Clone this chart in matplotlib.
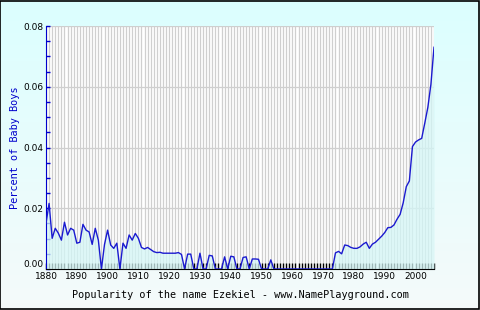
import numpy as np
import matplotlib
matplotlib.use("Agg")
import matplotlib.pyplot as plt
from matplotlib.patches import Rectangle

# popularity of "Ezekiel", share of baby boys (%), one value per year
years = list(range(1880, 2007))
percent = [
    0.0150, 0.0216, 0.0101, 0.0134, 0.0118, 0.0095, 0.0154, 0.0112, 0.0134, 0.0128,  # 1880s
    0.0085, 0.0088, 0.0147, 0.0128, 0.0122, 0.0081, 0.0134, 0.0095, 0.0000, 0.0081,  # 1890s
    0.0128, 0.0079, 0.0068, 0.0085, 0.0000, 0.0085, 0.0068, 0.0112, 0.0095, 0.0117,  # 1900s
    0.0101, 0.0071, 0.0066, 0.0071, 0.0064, 0.0057, 0.0054, 0.0055, 0.0052, 0.0052,  # 1910s
    0.0052, 0.0052, 0.0052, 0.0054, 0.0048, 0.0000, 0.0049, 0.0049, 0.0000, 0.0000,  # 1920s
    0.0052, 0.0000, 0.0000, 0.0045, 0.0043, 0.0000, 0.0000, 0.0000, 0.0040, 0.0000,  # 1930s
    0.0042, 0.0040, 0.0000, 0.0000, 0.0038, 0.0040, 0.0000, 0.0033, 0.0033, 0.0032,  # 1940s
    0.0000, 0.0000, 0.0000, 0.0030, 0.0000, 0.0000, 0.0000, 0.0000, 0.0000, 0.0000,  # 1950s
    0.0000, 0.0000, 0.0000, 0.0000, 0.0000, 0.0000, 0.0000, 0.0000, 0.0000, 0.0000,  # 1960s
    0.0000, 0.0000, 0.0000, 0.0000, 0.0053, 0.0058, 0.0050, 0.0079, 0.0077, 0.0071,  # 1970s
    0.0068, 0.0068, 0.0073, 0.0082, 0.0088, 0.0068, 0.0082, 0.0088, 0.0098, 0.0108,  # 1980s
    0.0120, 0.0136, 0.0137, 0.0145, 0.0164, 0.0180, 0.0218, 0.0271, 0.0290, 0.0403,  # 1990s
    0.0418, 0.0425, 0.0430, 0.0480, 0.0532, 0.0608, 0.0730,                          # 2000s
]
xticks = list(range(1880, 2001, 10))
yticks = [0.00, 0.02, 0.04, 0.06, 0.08]

fig = plt.figure(figsize=(4.8, 3.1), dpi=100)

# light cyan gradient behind everything
bg = fig.add_axes([0, 0, 1, 1], zorder=-1)
grad = np.linspace(0, 1, 256).reshape(-1, 1)
top = np.array([0.86, 1.0, 1.0])
bottom = np.array([0.96, 0.98, 0.98])
img = top + (bottom - top) * grad[:, :, None]
bg.imshow(img, aspect="auto", extent=[0, 1, 0, 1])
bg.set_axis_off()
fig.patches.append(Rectangle((0.001, 0.002), 0.997, 0.995, transform=fig.transFigure,
                             fill=False, edgecolor="black", linewidth=1.2))

ax = fig.add_axes([46 / 480, 41 / 310, 388 / 480, 243 / 310])
ax.set_facecolor("white")
ax.set_axisbelow(True)

# one vertical grid line per year, horizontal every 0.02
ax.set_xticks(years, minor=True)
ax.grid(True, which="minor", axis="x", color="#cfcfcf", linewidth=0.9)
ax.grid(True, which="major", axis="both", color="#cfcfcf", linewidth=0.9)

ax.fill_between(years, percent, 0, color="#d4f6f6", alpha=0.75, linewidth=0, zorder=2)
ax.plot(years, percent, color="#1a1ad0", linewidth=1.0, zorder=3)

ax.set_xlim(1880, 2006)
ax.set_ylim(0, 0.08)
ax.set_xticks(xticks)
ax.set_xticklabels([str(y) for y in xticks])
ax.set_yticks(yticks)
ax.set_yticklabels([f"{v:.2f}" for v in yticks])
ax.set_yticks(np.arange(0, 0.0801, 0.005), minor=True)
ax.get_yticklabels()[0].set_verticalalignment("bottom")

ax.tick_params(axis="x", which="minor", direction="in", length=4, color="black", width=1)
ax.tick_params(axis="x", which="major", direction="in", length=4, color="black", width=1,
               labelsize=6.5, pad=2)
ax.tick_params(axis="y", which="both", direction="in", length=3, color="#0000cc", width=1,
               labelsize=6.5, pad=2)

for side in ("top", "right"):
    ax.spines[side].set_visible(False)
ax.spines["left"].set_color("#0000cc")
ax.spines["bottom"].set_color("black")

ax.set_ylabel("Percent of Baby Boys", color="#0000cc", fontsize=7.4,
              family="DejaVu Sans Mono", labelpad=2)
ax.set_xlabel("Popularity of the name Ezekiel - www.NamePlayground.com", fontsize=7.3,
              family="DejaVu Sans Mono", labelpad=7)

fig.savefig("out.png", dpi=100)
